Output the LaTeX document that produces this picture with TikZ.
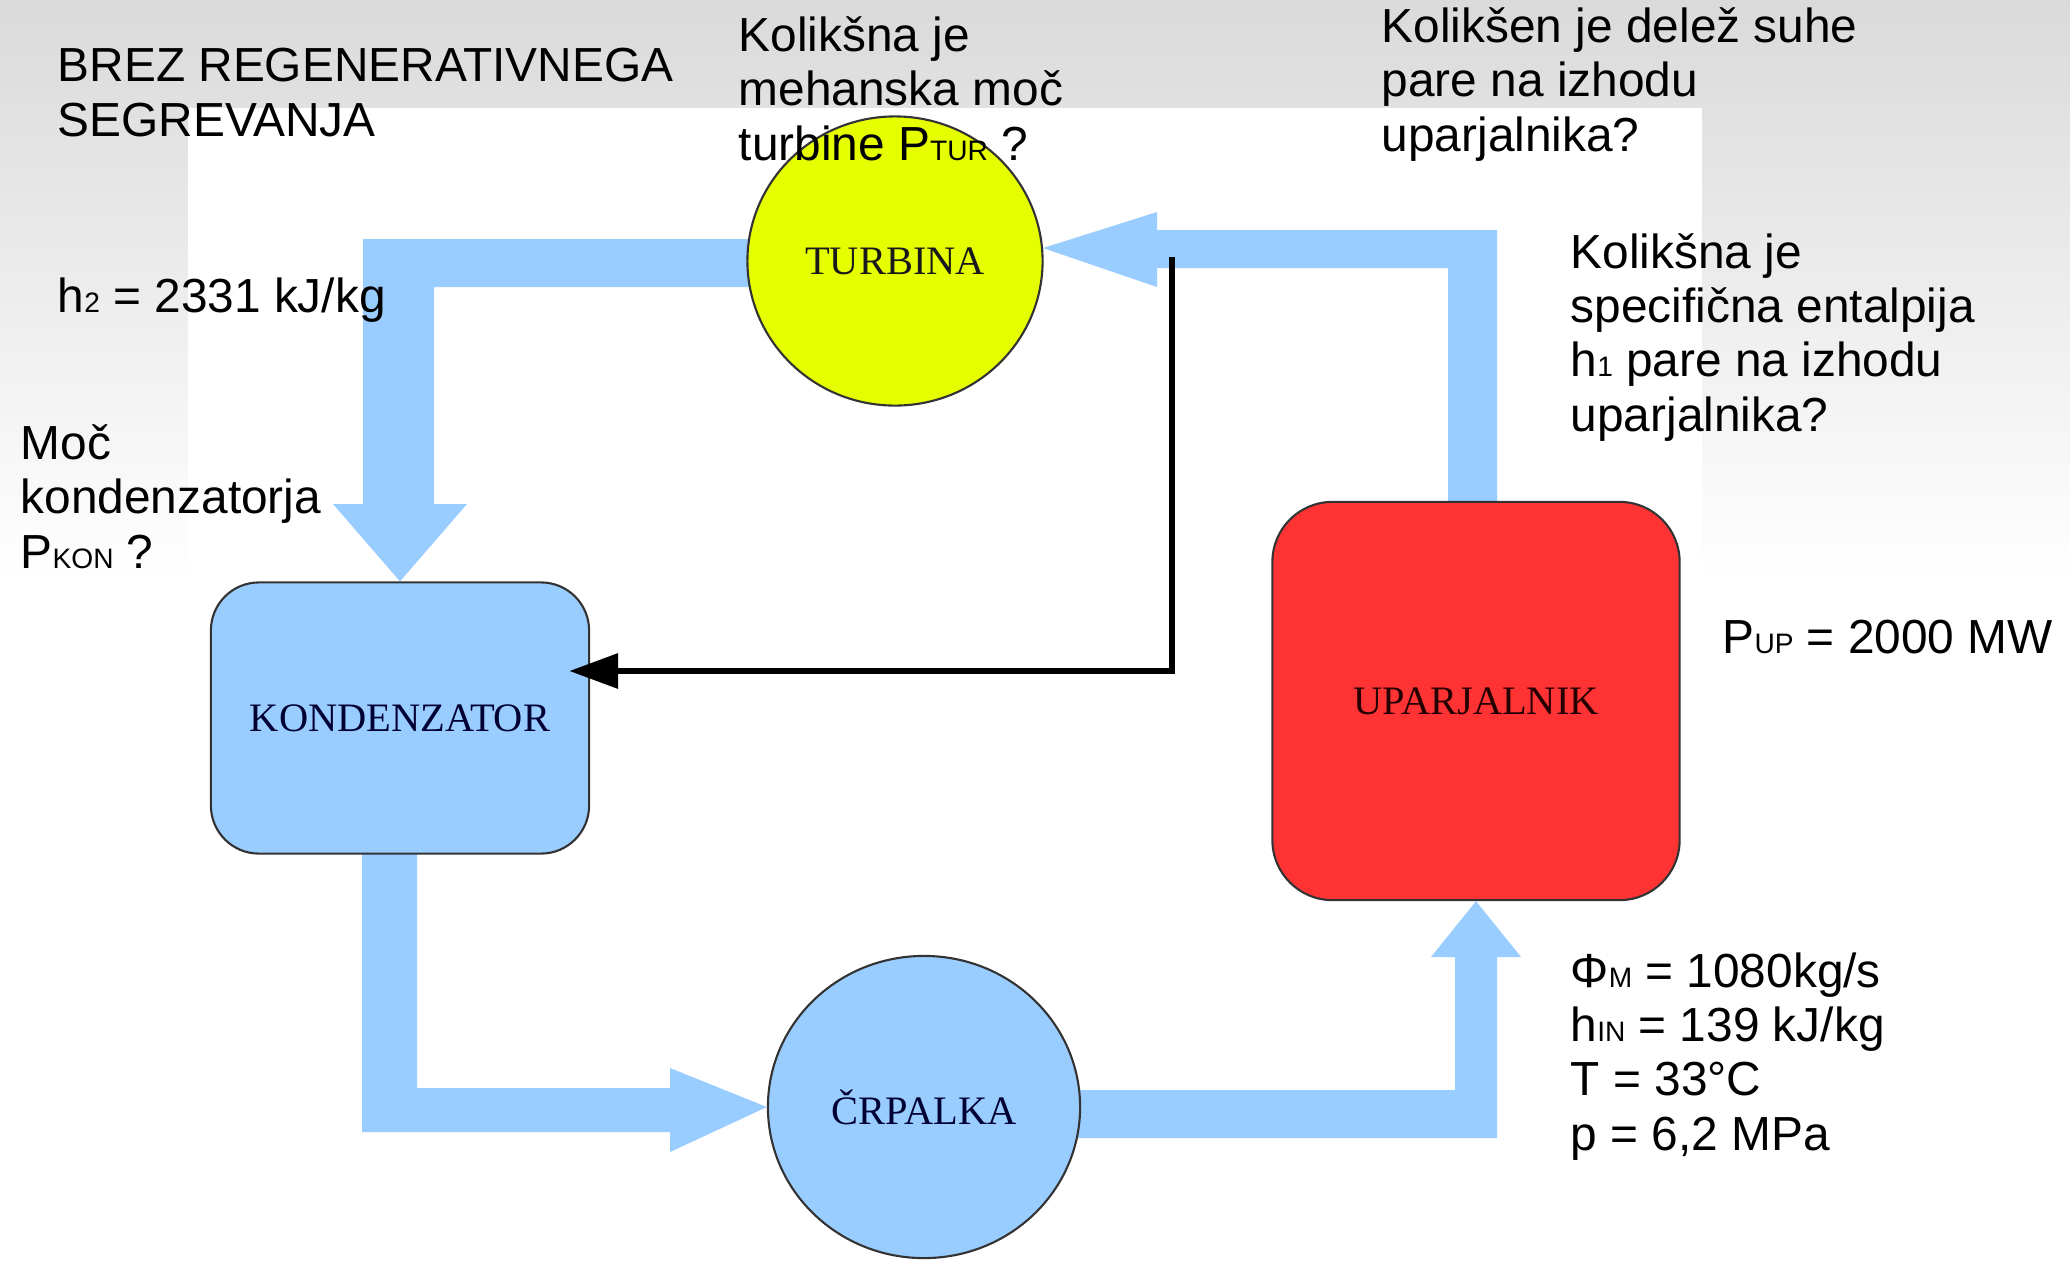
\documentclass[tikz,border=0pt]{standalone}
\usepackage{fontspec}
\setmainfont{Liberation Sans}
\newfontfamily\unitfont{Liberation Serif}
\usetikzlibrary{shapes,shapes.geometric,arrows.meta,backgrounds}
\definecolor{flowblue}{RGB}{153,204,255}
\definecolor{turyellow}{RGB}{230,255,0}
\definecolor{upared}{RGB}{255,51,51}
\definecolor{bggray}{RGB}{218,218,218}
\newcommand{\smallidx}[1]{{\fontsize{8}{8}\selectfont #1}}

\begin{document}
\begin{tikzpicture}
	[x=0.01cm,y=-0.01cm,
	flow/.style={fill=flowblue},
	unit/.style={draw=black!80,line width=0.6pt,inner sep=0pt,
		font=\unitfont\fontsize{11.5}{13}\selectfont},
	fb/.style={line width=1.9pt,-{Triangle[length=4.9mm,width=3.4mm]}},
	lbl/.style={anchor=base west,align=left,inner sep=0pt,
		font=\fontsize{13.6}{15.4}\selectfont}]
	\useasboundingbox (0,0) rectangle (2070,1260);

	\node[unit,ellipse,fill=turyellow,text=black!90,
		minimum width=2.95cm,minimum height=2.89cm] (tur) at (895,261) {TURBINA};
	\node[unit,rectangle,rounded corners=0.48cm,fill=flowblue,text=blue!20!black,
		minimum width=3.78cm,minimum height=2.71cm] (kon) at (400,718) {KONDENZATOR};
	\node[unit,ellipse,fill=flowblue,text=blue!20!black,
		minimum width=3.12cm,minimum height=3.02cm] (crp) at (924,1107) {ČRPALKA};
	\node[unit,rectangle,rounded corners=0.6cm,fill=upared,text=red!15!black,
		minimum width=4.07cm,minimum height=3.98cm] (upa) at (1476,701) {UPARJALNIK};

	\begin{scope}[on background layer]
		\shade[top color=bggray,bottom color=white] (0,0) rectangle (2070,580);
		\fill[white] (188,108) rectangle (1702,1260);
		\fill[flow] (tur.center |- 0,239) -- (363,239) -- (363,504) -- (333,504)
			-- (kon.north) -- (467,504) -- (434,504) -- (434,287)
			-- (tur.center |- 0,287) -- cycle;
		\fill[flow] (kon.center -| 362,0) -- (362,1132) -- (670,1132) -- (670,1152)
			-- (crp.west) -- (670,1068) -- (670,1088) -- (417,1088)
			-- (kon.center -| 417,0) -- cycle;
		\fill[flow] (crp.center |- 0,1090) -- (1455,1090) -- (1455,957) -- (1431,957)
			-- (upa.south) -- (1521,957) -- (1497,957) -- (1497,1138)
			-- (crp.center |- 0,1138) -- cycle;
		\fill[flow] (upa.center -| 1448,0) -- (1448,268) -- (1157,268) -- (1157,287)
			-- (tur.5) -- (1157,212) -- (1157,230) -- (1497,230)
			-- (upa.center -| 1497,0) -- cycle;
	\end{scope}

	\coordinate (odcep) at (1172,257);
	\draw[fb] (odcep) |- ([shift={(-21,-47)}]kon.east);

	\node[lbl] (naslov) at (57,136) {BREZ REGENERATIVNEGA\\SEGREVANJA};
	\node[lbl] (qtur) at (738,160) {Kolikšna je\\mehanska moč\\turbine P\smallidx{TUR} ?};
	\node[lbl] (qdel) at (1381,151) {Kolikšen je delež suhe\\pare na izhodu\\uparjalnika?};
	\node[lbl] (qent) at (1570,431) {Kolikšna je\\specifična entalpija\\h\smallidx{1} pare na izhodu\\uparjalnika?};
	\node[lbl] (hdva) at (57,312) {h\smallidx{2} = 2331 kJ/kg};
	\node[lbl] (pkon) at (20,568) {Moč\\kondenzatorja\\P\smallidx{KON} ?};
	\node[lbl] (pup) at (1722,653) {P\smallidx{UP} = 2000 MW};
	\node[lbl] (vhod) at (1570,1150) {Φ\smallidx{M} = 1080kg/s\\h\smallidx{IN} = 139 kJ/kg\\T = 33°C\\p = 6,2 MPa};
\end{tikzpicture}
\end{document}
